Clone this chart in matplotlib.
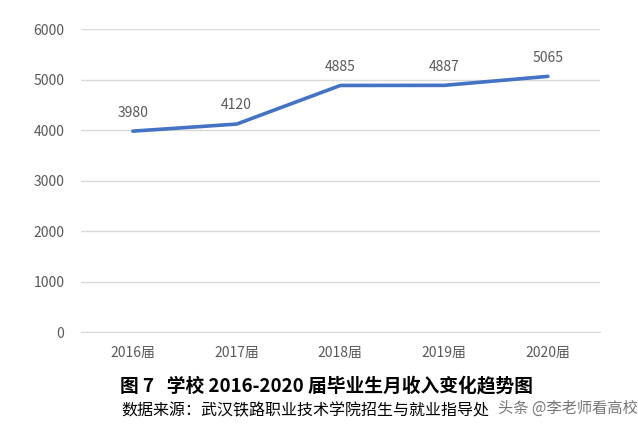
import matplotlib
matplotlib.use("Agg")
import matplotlib.pyplot as plt

categories = ["2016届", "2017届", "2018届", "2019届", "2020届"]
values = [3980, 4120, 4885, 4887, 5065]
yticks = [0, 1000, 2000, 3000, 4000, 5000, 6000]

plt.rcParams['font.family'] = ['Noto Sans CJK SC', 'DejaVu Sans']
fig = plt.figure(figsize=(6.38, 4.29), dpi=100)
ax = fig.add_axes([0.127, 0.226, 0.813, 0.706])
x = list(range(len(categories)))
ax.plot(x, values, color="#4472C4", lw=2.6, solid_capstyle="round")
for xi, v in zip(x, values):
    ax.text(xi, v + 230, str(v), ha="center", va="bottom", fontsize=10, color="#595959")
ax.set_xlim(-0.5, 4.5)
ax.set_ylim(0, 6000)
ax.set_yticks(yticks)
ax.set_xticks(x)
ax.set_xticklabels(categories)
ax.tick_params(length=0, labelsize=10, colors="#595959")
ax.tick_params(axis="x", pad=10)
ax.tick_params(axis="y", pad=12)
ax.grid(axis="y", color="#D9D9D9", lw=1)
ax.set_axisbelow(True)
for s in ["top", "right", "left"]:
    ax.spines[s].set_visible(False)
ax.spines["bottom"].set_color("#D9D9D9")
fig.text(0.512, 0.1, "图 7   学校 2016-2020 届毕业生月收入变化趋势图", ha="center", va="center",
         fontsize=13.5, fontweight="bold", color="black")
fig.text(0.19, 0.042, "数据来源：武汉铁路职业技术学院招生与就业指导处", ha="left", va="center",
         fontsize=11.5, color="black")
fig.text(0.78, 0.048, "头条 @李老师看高校", ha="left", va="center", fontsize=11, color="#555555", alpha=0.8)
fig.savefig("out.png", dpi=100, facecolor="white")
